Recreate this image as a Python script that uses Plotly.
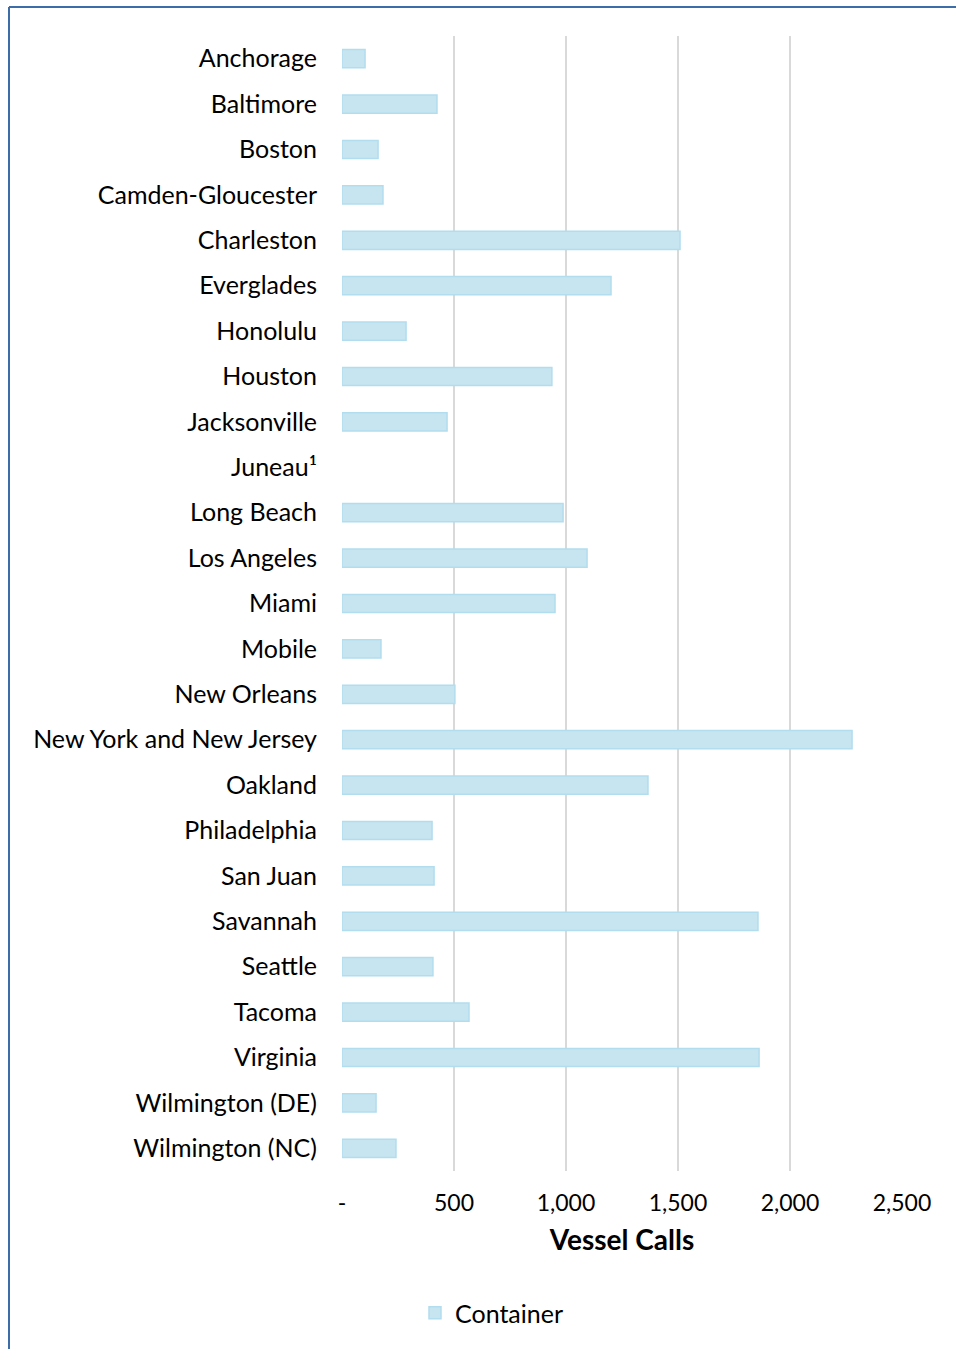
import plotly.graph_objects as go

ports = ["Anchorage", "Baltimore", "Boston", "Camden-Gloucester", "Charleston",
         "Everglades", "Honolulu", "Houston", "Jacksonville", "Juneau¹",
         "Long Beach", "Los Angeles", "Miami", "Mobile", "New Orleans",
         "New York and New Jersey", "Oakland", "Philadelphia", "San Juan",
         "Savannah", "Seattle", "Tacoma", "Virginia", "Wilmington (DE)",
         "Wilmington (NC)"]
container_calls = [103, 424, 161, 183, 1509, 1201, 286, 937, 469, 0,
                   987, 1094, 951, 174, 504, 2277, 1366, 402, 411,
                   1857, 406, 567, 1862, 152, 241]
tick_vals = [0, 500, 1000, 1500, 2000, 2500]
tick_text = ["-", "500", "1,000", "1,500", "2,000", "2,500"]

FONT = "Lato"

fig = go.Figure()
fig.add_trace(go.Bar(
    y=ports, x=container_calls, orientation="h", name="Container",
    marker=dict(color="#C6E5F1",
                line=dict(color="#B2DDEE",
                          width=[0 if v == 0 else 1.5 for v in container_calls])),
    width=0.4, showlegend=True,
))

fig.update_layout(
    width=956, height=1349,
    margin=dict(l=342, r=54, t=36, b=178),
    paper_bgcolor="white", plot_bgcolor="white",
    font=dict(family=FONT, size=25, color="#000000"),
    xaxis=dict(range=[0, 2500], tickvals=tick_vals, ticktext=tick_text,
               showgrid=True, gridcolor="#D9D9D9", gridwidth=2,
               zeroline=False, showline=False, ticks="",
               tickfont=dict(size=23), ticklabelstandoff=16,
               title=dict(text="<b>Vessel Calls</b>", font=dict(size=28), standoff=15)),
    yaxis=dict(categoryorder="array", categoryarray=ports, autorange="reversed",
               showgrid=False, zeroline=False, showline=False, ticks="",
               ticklabelstandoff=24, tickfont=dict(size=25)),
    legend=dict(orientation="h", x=(415 - 342) / 560, xanchor="left",
                y=-142 / 1135, yanchor="middle",
                font=dict(size=25), itemwidth=30),
    shapes=[
        dict(type="line", xref="paper", yref="paper",
             x0=-333/560, x1=620/560, y0=(1171-7)/1135, y1=(1171-7)/1135,
             line=dict(color="#3D6DA8", width=2)),
        dict(type="line", xref="paper", yref="paper",
             x0=-333/560, x1=-333/560, y0=(1171-7)/1135, y1=-185/1135,
             line=dict(color="#3D6DA8", width=2)),
    ],
)

fig.write_html("out.html", config={"displayModeBar": False},
               post_script="document.body.style.margin='0';document.body.style.overflow='hidden';")
